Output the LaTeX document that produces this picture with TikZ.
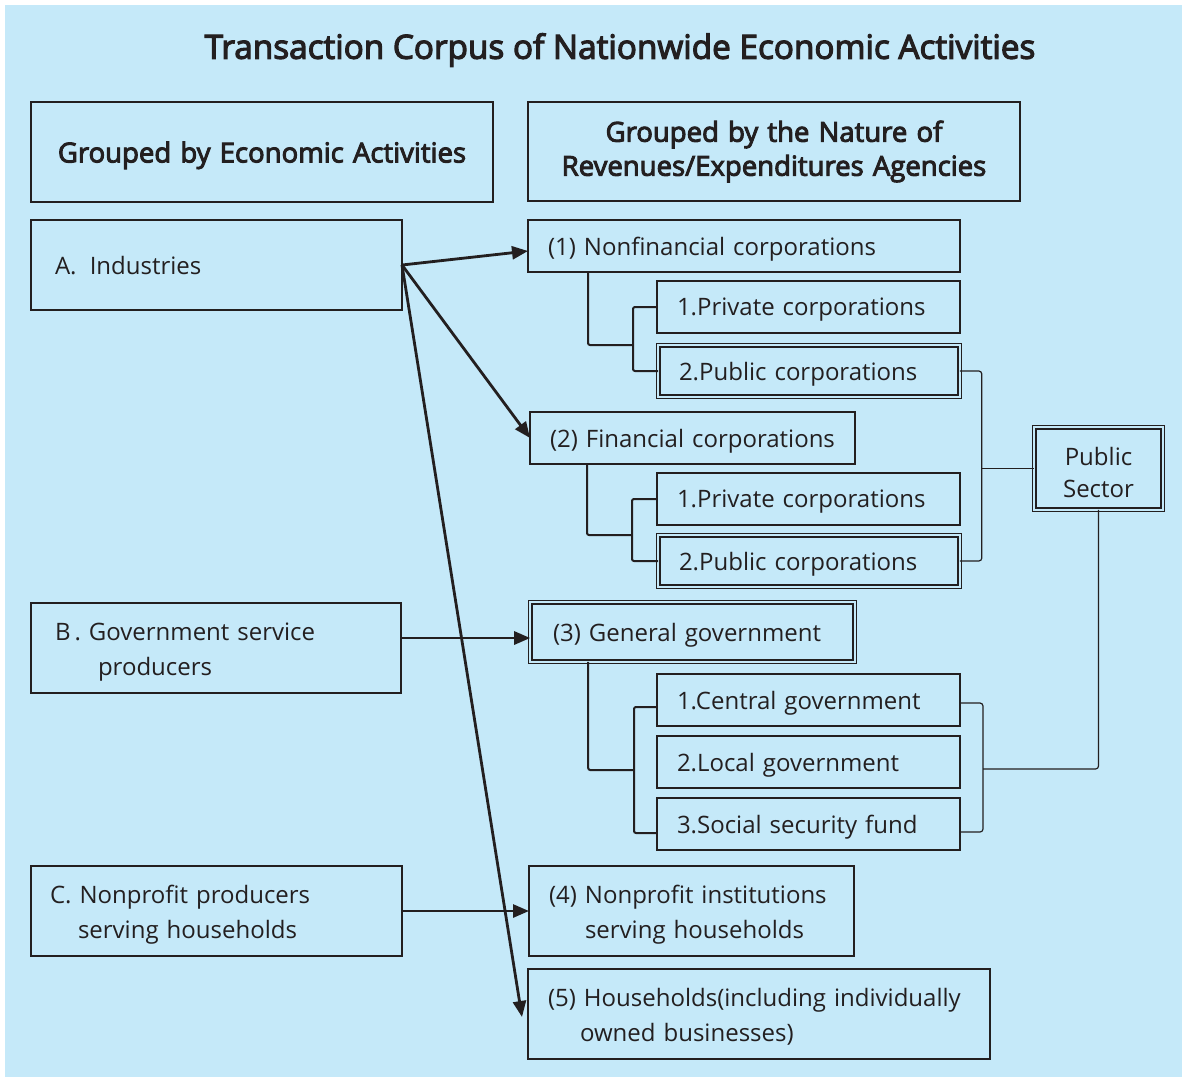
\documentclass[tikz,border=0pt]{standalone}
\usepackage{fontspec}
\setmainfont{Open Sans}
\newfontfamily\semib{Open Sans}[FakeBold=3.5]
\usetikzlibrary{arrows.meta}
\definecolor{bg}{HTML}{C5E9F9}
\definecolor{ink}{HTML}{231F20}
\begin{document}
\begin{tikzpicture}[x=1pt,y=-1pt,
  base/.style={draw=ink, line width=1.3pt, anchor=north west, inner ysep=0pt, outer sep=0pt,
    align=left, text=ink, font=\fontsize{24}{35}\selectfont},
  box/.style={base, text depth=0pt},
  mbox/.style={base, text depth=33pt},
  hbox/.style={base, align=center, font=\fontsize{27.5}{34}\selectfont\semib},
  dbox/.style={box, double=bg, double distance=2pt, line width=1.4pt},
  arr/.style={draw=ink, line width=2.8pt, -{Triangle[length=16pt,width=13pt]}},
  conn/.style={draw=ink, line width=2pt, rounded corners=2pt},
  thinc/.style={draw=ink, line width=1.2pt, rounded corners=3pt}]
\useasboundingbox (0,0) rectangle (1182,1077);
\fill[bg] (5,5) rectangle (1182,1077);

\node[text=ink, font=\fontsize{33.3}{38}\selectfont\semib] (title) at (620,50) {Transaction Corpus of Nationwide Economic Activities};

% headers
\node[hbox, text depth=0pt, minimum height=100, text width=442, inner xsep=10] (hl) at (31,102) {Grouped by Economic Activities};
\node[hbox, minimum height=99, text width=472, inner xsep=10] (hr) at (528,102) {Grouped by the Nature of\\Revenues/Expenditures Agencies};

% left column
\node[box, minimum height=90, text width=323, inner xsep=24] (A) at (31,220) {A.\hspace{0.55em}Industries};
\node[mbox, minimum height=90, text width=322, inner xsep=24] (B) at (31,603) {B\,. Government service\\\hspace{43pt}producers};
\node[mbox, minimum height=90, text width=333, inner xsep=19] (C) at (31,866) {C. Nonprofit producers\\\hspace{28pt}serving households};

% right column
\node[box, minimum height=52, text width=392, inner xsep=20] (n1) at (528,220) {(1) Nonfinancial corporations};
\node[box, minimum height=52, text width=263, inner xsep=20] (p1) at (657,281) {1.Private corporations};
\node[dbox, minimum height=51.6, text width=260, inner xsep=20.8] (q1) at (658.2,345.2) {2.Public corporations};

\node[box, minimum height=52, text width=285, inner xsep=20] (n2) at (530,412) {(2) Financial corporations};
\node[box, minimum height=52, text width=263, inner xsep=20] (p2) at (657,473) {1.Private corporations};
\node[dbox, minimum height=51.6, text width=260, inner xsep=20.8] (q2) at (658.2,535.2) {2.Public corporations};

\node[dbox, minimum height=59.6, text width=279, inner xsep=22.8] (g) at (530.2,602.2) {(3) General government};
\node[box, minimum height=52, text width=263, inner xsep=20] (g1) at (657,674) {1.Central government};
\node[box, minimum height=52, text width=263, inner xsep=20] (g2) at (657,736) {2.Local government};
\node[box, minimum height=52, text width=263, inner xsep=20] (g3) at (657,798) {3.Social security fund};

\node[mbox, minimum height=90, text width=285, inner xsep=20] (n4) at (529,866) {(4) Nonprofit institutions\\\hspace{36pt}serving households};
\node[mbox, minimum height=90, text width=422, inner xsep=20] (n5) at (528,969) {(5) Households(including individually\\\hspace{32pt}owned businesses)};

\node[dbox, align=center, text depth=24pt, font=\fontsize{24}{32}\selectfont, minimum height=82.6, text width=108, inner xsep=10.3] (ps) at (1034.2,427.2) {Public\\Sector};

% junction coordinates
\coordinate (j1) at (633,345);
\coordinate (j2) at (632,535);
\coordinate (j3) at (634,770);
\coordinate (rx) at (982,0);
\coordinate (gj) at (983,769);

% brackets left
\draw[conn] ([xshift=60pt]n1.south west) |- (j1);
\draw[conn] (p1.west) -- ++(-24,0) |- (q1.west);
\draw[conn] ([xshift=57pt]n2.south west) |- (j2);
\draw[conn] (p2.west) -- ++(-25,0) |- (q2.west);
\draw[conn] ([xshift=58pt]g.south west) |- (j3);
\draw[conn] ([yshift=-7pt]g1.west) -- ++(-23,0) |- ([yshift=-9pt]g3.west);

% brackets right
\draw[thinc] (q1.east) -- ++(22,0) |- (q2.east);
\draw[thinc] (ps.west) -- (ps.west -| rx);
\draw[thinc] ([yshift=-3pt]g1.east) -- ++(23,0) |- ([yshift=-8pt]g3.east);
\draw[thinc] (gj) -| (ps.south);

% arrows
\draw[arr] (A.east) -- ([yshift=-5pt]n1.west);
\draw[arr] (A.east) -- (n2.west);
\draw[arr] (A.east) -- ([xshift=-6pt,yshift=-3pt]n5.west);
\draw[arr] ([yshift=10pt]B.east) -- ([yshift=10pt]B.east -| g.west);
\draw[arr] (C.east) -- (n4.west);
\end{tikzpicture}
\end{document}
